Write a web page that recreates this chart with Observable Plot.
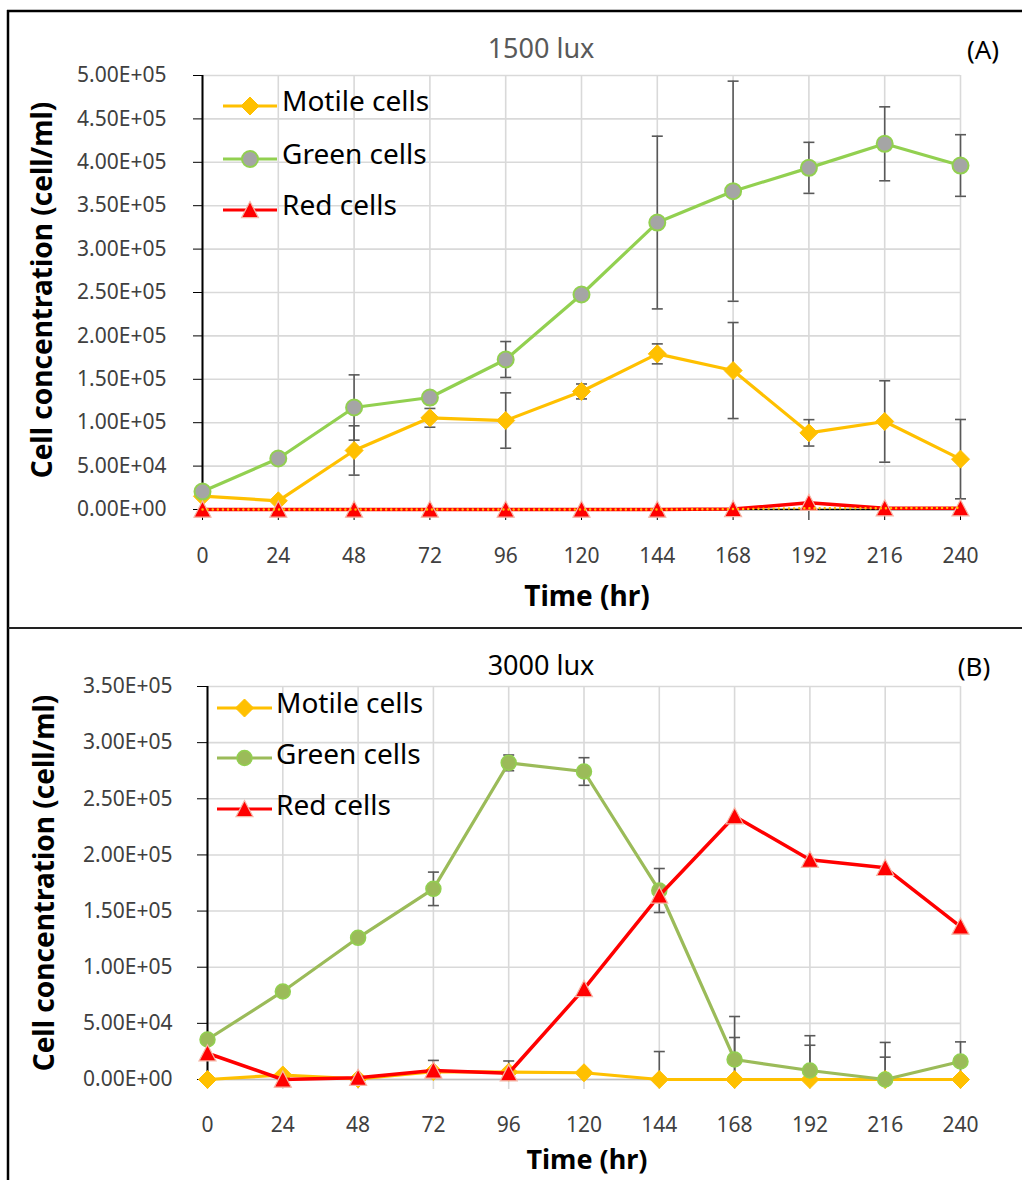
<!DOCTYPE html>
<html>
<head>
<meta charset="utf-8">
<script src="https://cdn.jsdelivr.net/npm/d3@7"></script>
<script src="https://cdn.jsdelivr.net/npm/@observablehq/plot@0.6"></script>
<style>
  body { margin: 0; background: #fff; font-family: "Noto Sans", sans-serif; }
  #page { position: relative; width: 1022px; height: 1180px; overflow: hidden; background: #fff; }
  .chart { position: absolute; }
  #overlay { position: absolute; left: 0; top: 0; pointer-events: none; }
</style>
</head>
<body>
<div id="page">
  <div id="chartA" class="chart" style="left:9px; top:12px;"></div>
  <div id="chartB" class="chart" style="left:9px; top:629px;"></div>
</div>
<script>
// ---------------- DATA ----------------
const hours = [0, 24, 48, 72, 96, 120, 144, 168, 192, 216, 240];
const seriesNames = ["Motile cells", "Green cells", "Red cells"];

// Panel A: 1500 lux
const titleA = "1500 lux";
const motileA    = [15300, 10000, 68000, 105600, 102500, 136000, 179300, 160100, 88300, 101400, 58000];
const motileErrA = [2000, 2000, 28400, 10800, 31900, 8600, 11500, 55300, 15200, 46900, 45700];
const greenA     = [20700, 58750, 117500, 129000, 172800, 247700, 330600, 366700, 393600, 421300, 396300];
const greenErrA  = [1500, 3000, 37600, 4000, 20700, 5000, 99500, 126800, 29400, 42600, 35500];
const redA       = [0, 0, 0, 0, 0, 0, 0, 500, 7700, 1500, 1500];
const dottedA    = [0, 0, 0, 0, 0, 0, 0, 500, 1500, 1500, 2000];
const yTicksA    = [0, 50000, 100000, 150000, 200000, 250000, 300000, 350000, 400000, 450000, 500000];

// Panel B: 3000 lux
const titleB = "3000 lux";
const motileB    = [0, 4000, 500, 7000, 6500, 6000, 0, 0, 0, 0, 0];
const motileErrB = [0, 0, 0, 10000, 10000, 0, 24900, 37400, 30500, 19900, 0];
const greenB     = [35600, 78400, 126200, 169800, 282000, 274300, 168300, 17800, 8000, 0, 16000];
const greenErrB  = [0, 0, 0, 14900, 7000, 12300, 19600, 38300, 31000, 33000, 17500];
const redB       = [23400, 0, 1500, 8000, 5600, 80700, 163900, 234500, 195700, 188500, 136200];
const yTicksB    = [0, 50000, 100000, 150000, 200000, 250000, 300000, 350000];

const xLabel = "Time (hr)";
const yLabel = "Cell concentration (cell/ml)";

// ---------------- HELPERS ----------------
const rows = (vals, errs) => hours.map((h, i) => ({h, v: vals[i], e: errs ? errs[i] : 0}));
function fmtE(v) {
  const [m, e] = v.toExponential(2).split("e");
  const n = Math.abs(+e);
  return m + "E" + (+e < 0 ? "-" : "+") + String(n).padStart(2, "0");
}
const rad = (size) => Math.sqrt(size / Math.PI);
const diamondSym = {draw(ctx, size) { const r = rad(size); ctx.moveTo(0, -r); ctx.lineTo(r, 0); ctx.lineTo(0, r); ctx.lineTo(-r, 0); ctx.closePath(); }};
const triSym = {draw(ctx, size) { const r = rad(size); ctx.moveTo(0, -r); ctx.lineTo(r, r * 0.9); ctx.lineTo(-r, r * 0.9); ctx.closePath(); }};
const capSym = {draw(ctx, size) { const r = rad(size); ctx.moveTo(-r, 0); ctx.lineTo(r, 0); }};

const C = {
  motile: "#FFC000",
  greenLineA: "#92D050", greenFillA: "#A5A5A5",
  greenLineB: "#9BBB59", greenFillB: "#9BBB59", greenStrokeB: "#92D050",
  red: "#FF0000", redEdge: "#F4B6A6",
  err: "#595959", grid: "#D9D9D9", tick: "#404040"
};

function errMarks(data) {
  const d = data.filter(d => d.e > 0);
  const lo = d.filter(d => d.v - d.e >= 0);
  return [
    Plot.ruleX(d, {x: "h", y1: d => Math.max(0, d.v - d.e), y2: d => d.v + d.e, stroke: C.err, strokeWidth: 1.6}),
    Plot.dot(d, {x: "h", y: d => d.v + d.e, symbol: capSym, r: 5.5, stroke: C.err, strokeWidth: 1.6}),
    Plot.dot(lo, {x: "h", y: d => d.v - d.e, symbol: capSym, r: 5.5, stroke: C.err, strokeWidth: 1.6})
  ];
}

// ---------------- PANEL A ----------------
const mA = rows(motileA, motileErrA), gA = rows(greenA, greenErrA), rA = rows(redA), dA = rows(dottedA);
const plotA = Plot.plot({
  width: 1013, height: 615,
  marginLeft: 193, marginRight: 62, marginTop: 63, marginBottom: 118,
  style: {fontFamily: "Noto Sans", fontSize: "21px", background: "transparent", overflow: "visible"},
  x: {domain: [0, 240]},
  y: {domain: [0, 500000]},
  marks: [
    Plot.gridX(hours, {stroke: C.grid, strokeOpacity: 1, strokeWidth: 1.6}),
    Plot.gridY(yTicksA, {stroke: C.grid, strokeOpacity: 1, strokeWidth: 1.6}),
    Plot.axisY({ticks: yTicksA, tickSize: 9, tickPadding: 27, tickFormat: fmtE, stroke: "#000", fill: C.tick, label: null, fontSize: 21}),
    Plot.axisX({ticks: hours, tickSize: 11, tickPadding: 28, tickFormat: d => String(d), stroke: "#000", fill: C.tick, label: null, fontSize: 21}),
    Plot.ruleX([0], {stroke: "#000", strokeWidth: 2}),
    Plot.ruleY([0], {stroke: "#000", strokeWidth: 1.5}),
    ...errMarks(mA),
    ...errMarks(gA),
    Plot.line(mA, {x: "h", y: "v", stroke: C.motile, strokeWidth: 3.2, strokeLinejoin: "round"}),
    Plot.dot(mA, {x: "h", y: "v", symbol: diamondSym, r: 9, fill: C.motile, stroke: C.motile, strokeWidth: 1}),
    Plot.line(gA, {x: "h", y: "v", stroke: C.greenLineA, strokeWidth: 3.2, strokeLinejoin: "round"}),
    Plot.dot(gA, {x: "h", y: "v", r: 8, fill: C.greenFillA, stroke: C.greenLineA, strokeWidth: 2}),
    Plot.line(rA, {x: "h", y: "v", stroke: C.red, strokeWidth: 3.5, strokeLinejoin: "round"}),
    Plot.dot(rA, {x: "h", y: "v", symbol: triSym, r: 8.5, fill: C.red, stroke: C.redEdge, strokeWidth: 1.2}),
    Plot.line(dA, {x: "h", y: "v", stroke: C.motile, strokeWidth: 2.4, strokeDasharray: "0.1 5", strokeLinecap: "round"})
  ]
});
document.getElementById("chartA").append(plotA);

// ---------------- PANEL B ----------------
const mB = rows(motileB, motileErrB), gB = rows(greenB, greenErrB), rB = rows(redB);
const plotB = Plot.plot({
  width: 1013, height: 551,
  marginLeft: 198, marginRight: 62, marginTop: 57, marginBottom: 101,
  style: {fontFamily: "Noto Sans", fontSize: "21px", background: "transparent", overflow: "visible"},
  x: {domain: [0, 240]},
  y: {domain: [0, 350000]},
  marks: [
    Plot.gridX(hours, {stroke: C.grid, strokeOpacity: 1, strokeWidth: 1.6}),
    Plot.gridY(yTicksB, {stroke: C.grid, strokeOpacity: 1, strokeWidth: 1.6}),
    Plot.axisY({ticks: yTicksB, tickSize: 10, tickPadding: 25, tickFormat: fmtE, stroke: "#000", fill: C.tick, label: null, fontSize: 21}),
    Plot.axisX({ticks: hours, tickSize: 10, tickPadding: 28, tickFormat: d => String(d), stroke: C.grid, strokeWidth: 1.6, fill: C.tick, label: null, fontSize: 21}),
    Plot.ruleY([0], {stroke: "#BFBFBF", strokeWidth: 1.6}),
    Plot.ruleX([0], {stroke: "#000", strokeWidth: 2}),
    ...errMarks(mB),
    ...errMarks(gB),
    Plot.line(mB, {x: "h", y: "v", stroke: C.motile, strokeWidth: 3.2, strokeLinejoin: "round"}),
    Plot.dot(mB, {x: "h", y: "v", symbol: diamondSym, r: 9, fill: C.motile, stroke: C.motile, strokeWidth: 1}),
    Plot.line(gB, {x: "h", y: "v", stroke: C.greenLineB, strokeWidth: 3.2, strokeLinejoin: "round"}),
    Plot.dot(gB, {x: "h", y: "v", r: 7.5, fill: C.greenFillB, stroke: C.greenStrokeB, strokeWidth: 1.5}),
    Plot.line(rB, {x: "h", y: "v", stroke: C.red, strokeWidth: 3.5, strokeLinejoin: "round"}),
    Plot.dot(rB, {x: "h", y: "v", symbol: triSym, r: 8.5, fill: C.red, stroke: C.redEdge, strokeWidth: 1.2})
  ]
});
document.getElementById("chartB").append(plotB);

// ---------------- OVERLAY: frame, titles, legends, axis titles ----------------
const svg = d3.select("#page").append("svg").attr("id", "overlay")
  .attr("width", 1022).attr("height", 1180)
  .style("font-family", "'Noto Sans', sans-serif");

// panel frames
svg.append("line").attr("x1", 7).attr("x2", 1022).attr("y1", 11).attr("y2", 11).attr("stroke", "#000").attr("stroke-width", 2.5);
svg.append("line").attr("x1", 8).attr("x2", 8).attr("y1", 10).attr("y2", 1180).attr("stroke", "#000").attr("stroke-width", 2.5);
svg.append("line").attr("x1", 8).attr("x2", 1022).attr("y1", 628).attr("y2", 628).attr("stroke", "#222").attr("stroke-width", 2);

function texts(cfg) {
  // titles
  svg.append("text").attr("x", 541).attr("y", cfg.titleY).attr("text-anchor", "middle")
    .attr("font-size", 27).attr("fill", cfg.titleColor).text(cfg.title);
  svg.append("text").attr("x", cfg.tagX).attr("y", cfg.titleY + 1).attr("text-anchor", "middle")
    .attr("font-size", 26).attr("fill", "#000").text(cfg.tag);
  // axis titles
  svg.append("text").attr("x", 587).attr("y", cfg.xTitleY).attr("text-anchor", "middle")
    .attr("font-size", cfg.xTitleSize).attr("font-weight", "bold").attr("fill", "#000").text(xLabel);
  svg.append("text").attr("transform", `translate(${cfg.yTitleX},${cfg.yTitleY}) rotate(-90)`)
    .attr("text-anchor", "middle").attr("font-size", 28).attr("font-weight", "bold").attr("fill", "#000").text(yLabel);
  // legend
  const L = cfg.legend;
  L.rows.forEach((row, i) => {
    const y = row.y;
    svg.append("line").attr("x1", L.x1).attr("x2", L.x2).attr("y1", y).attr("y2", y)
      .attr("stroke", row.stroke).attr("stroke-width", 3.2);
    const s = row.size;
    const cx = (L.x1 + L.x2) / 2;
    const sym = row.sym === "circle" ? d3.symbolCircle : row.sym === "tri" ? triSym : diamondSym;
    svg.append("path").attr("transform", `translate(${cx},${y})`)
      .attr("d", d3.symbol(sym, Math.PI * s * s)())
      .attr("fill", row.fill).attr("stroke", row.edge).attr("stroke-width", row.edgeW);
    svg.append("text").attr("x", L.tx).attr("y", row.base).attr("font-size", 28)
      .attr("fill", "#000").text(seriesNames[i]);
  });
}

texts({
  title: titleA, titleY: 58, titleColor: "#595959", tag: "(A)", tagX: 983,
  xTitleY: 606, xTitleSize: 28, yTitleX: 52, yTitleY: 290,
  legend: {x1: 223, x2: 277, tx: 282, rows: [
    {y: 106, base: 111, stroke: C.motile, sym: "diamond", size: 9, fill: C.motile, edge: C.motile, edgeW: 1},
    {y: 159, base: 164, stroke: C.greenLineA, sym: "circle", size: 8, fill: C.greenFillA, edge: C.greenLineA, edgeW: 2},
    {y: 210, base: 215, stroke: C.red, sym: "tri", size: 8.5, fill: C.red, edge: C.redEdge, edgeW: 1.2}
  ]}
});
texts({
  title: titleB, titleY: 675, titleColor: "#000", tag: "(B)", tagX: 974,
  xTitleY: 1169, xTitleSize: 27, yTitleX: 54, yTitleY: 883,
  legend: {x1: 217, x2: 272, tx: 276, rows: [
    {y: 708, base: 713, stroke: C.motile, sym: "diamond", size: 9, fill: C.motile, edge: C.motile, edgeW: 1},
    {y: 758, base: 764, stroke: C.greenLineB, sym: "circle", size: 7.5, fill: C.greenFillB, edge: C.greenStrokeB, edgeW: 1.5},
    {y: 809, base: 815, stroke: C.red, sym: "tri", size: 8.5, fill: C.red, edge: C.redEdge, edgeW: 1.2}
  ]}
});
</script>
</body>
</html>
